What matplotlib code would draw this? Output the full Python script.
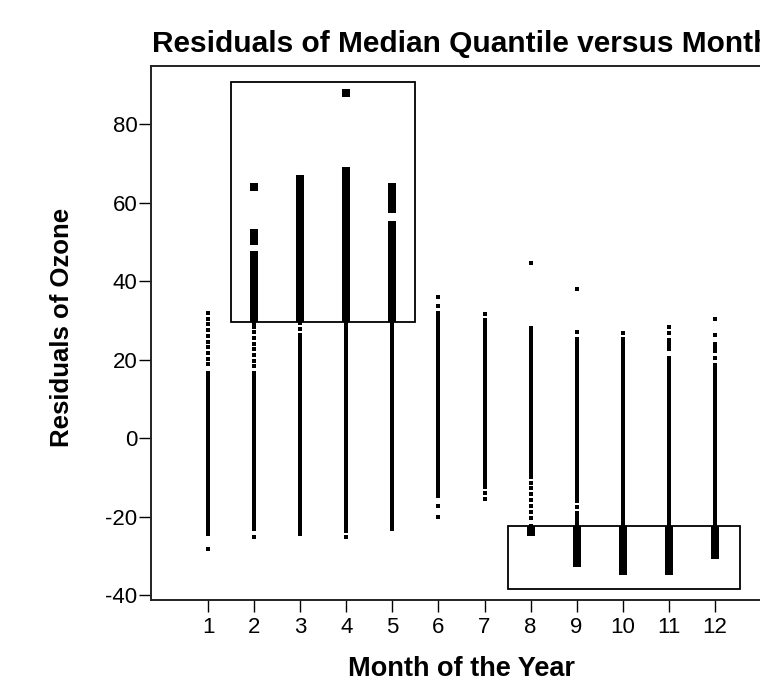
import matplotlib
matplotlib.use("Agg")
import matplotlib.pyplot as plt
from matplotlib.patches import Rectangle

plt.rcParams['font.family'] = ['Liberation Sans', 'DejaVu Sans']

# ---- data ----
months = [1, 2, 3, 4, 5, 6, 7, 8, 9, 10, 11, 12]
month_labels = ['1', '2', '3', '4', '5', '6', '7', '8', '9', '10', '11', '12']
y_ticks = [-40, -20, 0, 20, 40, 60, 80]

# dense (visually continuous) runs of residuals: month, low, high
seg_month = [1, 2, 2, 2, 3, 3, 4, 5, 5, 6, 7, 8, 8, 9, 9, 10, 11, 11, 12, 12]
seg_low = [-24.4, -23.0, 29.3, 50.3, -24.4, 29.3, -23.7, -23.0, 58.3, -14.8,
           -12.5, -9.9, -23.8, -16.1, -31.8, -33.8, 22.7, -33.8, 22.2, -29.7]
seg_high = [16.5, 16.5, 46.7, 52.2, 26.2, 66.1, 68.2, 54.3, 63.9, 32.0,
            30.1, 28.2, -22.4, 25.2, -19.0, 25.2, 25.0, 20.5, 24.1, 18.6]

# separate individual residual points
dot_month = ([1] * 11 + [2] * 10 + [3] + [4] * 2 + [6] * 4 + [7] * 3 + [8] * 8
             + [9] * 3 + [10] + [11] * 2 + [12] * 3)
dot_value = [18.9, 20.3, 21.7, 23.2, 24.6, 26.1, 27.5, 29.0, 30.4, 31.8, -28.2,
             18.3, 19.8, 21.3, 22.7, 24.1, 25.6, 27.0, 28.4, -25.2, 64.0,
             27.8,
             -25.2, 88.0,
             36.1, 33.7, -17.2, -20.1,
             31.6, -13.9, -15.6,
             44.6, -11.3, -12.7, -14.2, -15.8, -17.3, -18.9, -20.4,
             38.0, 27.0, -17.4,
             26.8,
             28.3, 26.8,
             30.3, 26.2, 20.4]

# highlighted (magnified) regions: x0, y0, x1, y1
box_x0 = [1.5, 7.5]
box_y0 = [29.5, -38.3]
box_x1 = [5.5, 12.55]
box_y1 = [90.8, -22.3]

title = "Residuals of Median Quantile versus Month"
xlabel = "Month of the Year"
ylabel = "Residuals of Ozone"

# ---- figure ----
W, H = 760, 697
fig = plt.figure(figsize=(W / 100, H / 100), dpi=100)
left_px, right_px, top_px, bot_px = 151, 772, 65.7, 600
ax = fig.add_axes([left_px / W, 1 - bot_px / H, (right_px - left_px) / W,
                   (bot_px - top_px) / H])
ax.set_xlim(-0.244, 13.244)
ax.set_ylim(-41.2, 94.9)

thin = 2.88
thick = 5.76

ax.vlines(seg_month, seg_low, seg_high, colors='black', linewidth=thin,
          capstyle='projecting', zorder=2)
ax.scatter(dot_month, dot_value, marker='s', s=thin ** 2, color='black',
           linewidths=0, zorder=2)

for x0, y0, x1, y1 in zip(box_x0, box_y0, box_x1, box_y1):
    rect = Rectangle((x0, y0), x1 - x0, y1 - y0, fill=False,
                     edgecolor='black', linewidth=1.3, zorder=4)
    ax.add_patch(rect)
    lc = ax.vlines(seg_month, seg_low, seg_high, colors='black',
                   linewidth=thick, capstyle='projecting', zorder=3)
    lc.set_clip_path(rect)
    sc = ax.scatter(dot_month, dot_value, marker='s', s=thick ** 2,
                    color='black', linewidths=0, zorder=3)
    sc.set_clip_path(rect)

ax.set_xticks(months)
ax.set_xticklabels(month_labels)
ax.set_yticks(y_ticks)
ax.set_yticklabels([str(v) for v in y_ticks])
ax.tick_params(axis='both', direction='out', length=8.3, width=1.0,
               labelsize=16, color='black')
ax.tick_params(axis='y', pad=1.5)
ax.tick_params(axis='x', pad=4)

for s in ['left', 'bottom', 'top', 'right']:
    ax.spines[s].set_linewidth(1.4)
    ax.spines[s].set_color('#222222')

fig.text((left_px + right_px) / 2 / W, 1 - 44 / H, title, ha='center',
         va='center', fontsize=21.5, fontweight='bold')
fig.text((left_px + right_px) / 2 / W, 1 - 669 / H, xlabel, ha='center',
         va='center', fontsize=19.5, fontweight='bold')
fig.text(62 / W, 1 - 327 / H, ylabel, ha='center', va='center',
         rotation=90, fontsize=18.5, fontweight='bold')

fig.savefig('out.png', dpi=100)
